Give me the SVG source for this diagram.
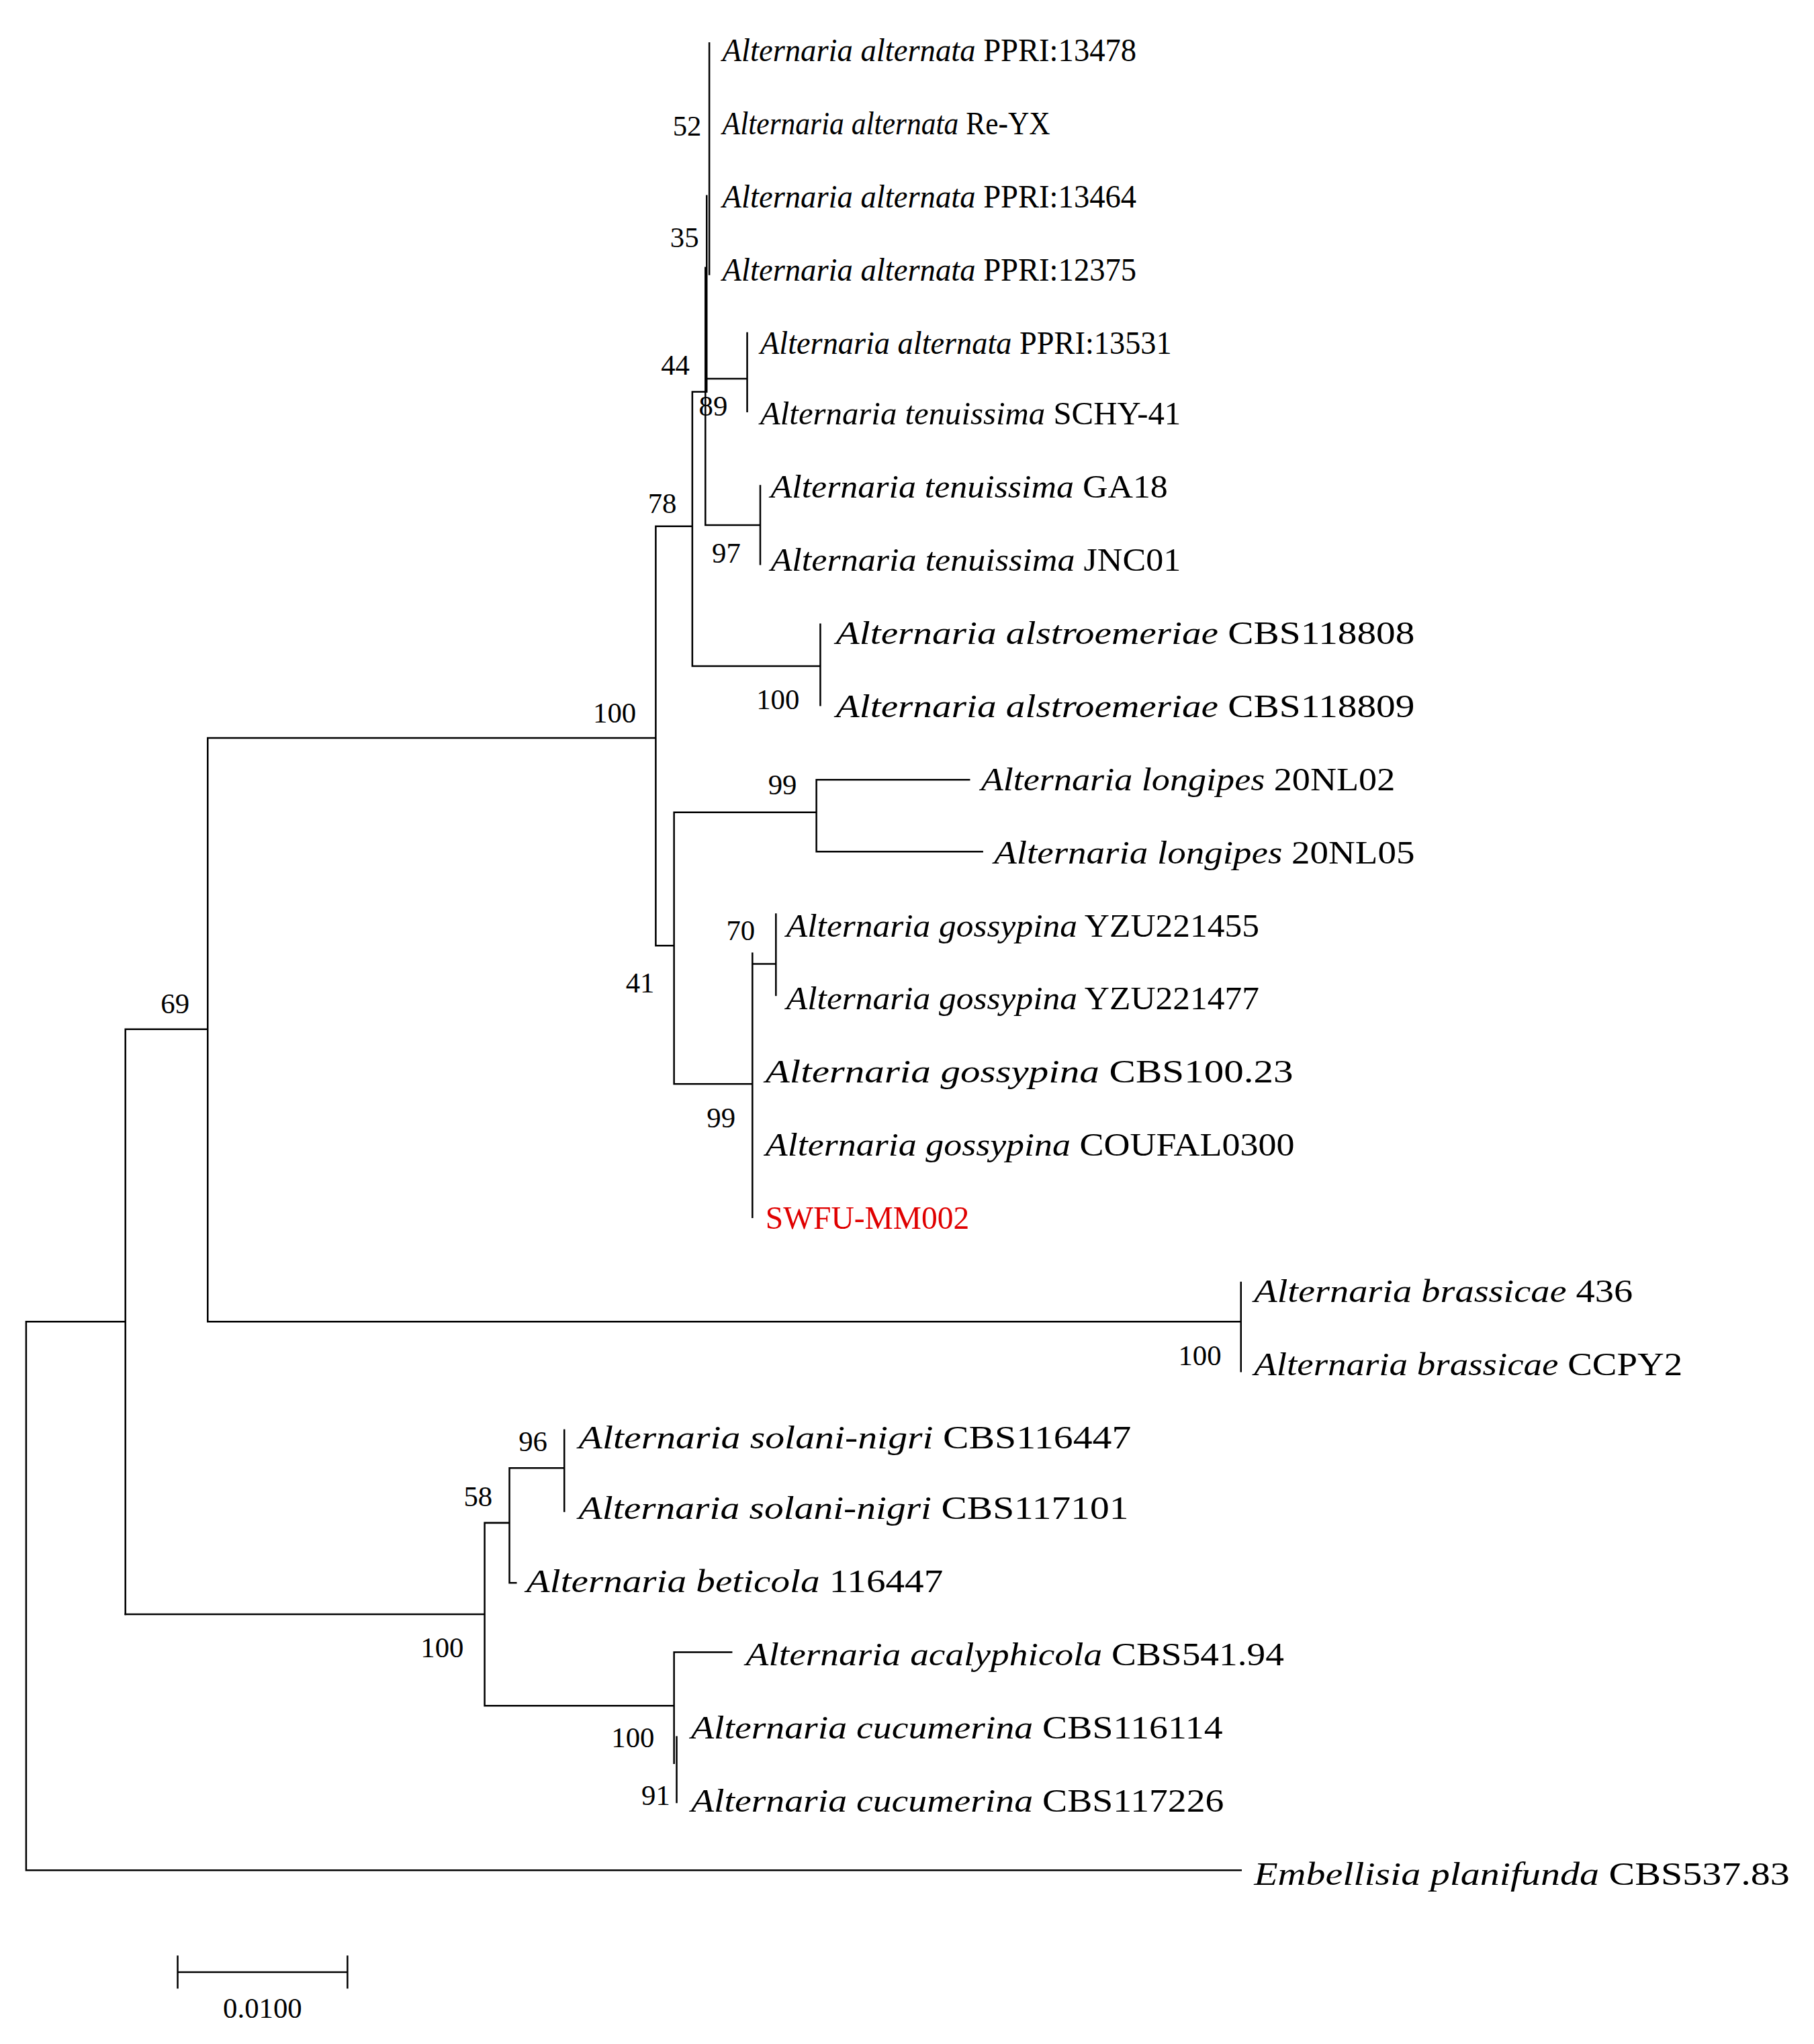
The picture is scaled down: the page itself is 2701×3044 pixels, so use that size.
<svg xmlns="http://www.w3.org/2000/svg" width="2701" height="3044" viewBox="0 0 2701 3044">
<style>
.e{stroke:#000;stroke-width:1.3;fill:none;stroke-linecap:square}
.t{font-family:"Liberation Serif",serif;font-size:25px;fill:#000}
.b{font-family:"Liberation Serif",serif;font-size:22px;fill:#000}
.i{font-style:italic}
</style>
<rect width="2701" height="3044" fill="#fff"/>
<g transform="scale(1.945)">
<g id="connectors">
<path class="e" d="M20 1012V1432H950M20 1012H96M96 788V1236M96 788H159M159 565V1012M159 1012H950M950 982V1050M159 565H502M502 403V724M502 403H530M530 300V510M530 510H628M628 478V540M530 300H540M540 205V402M540 290H572M572 255V315M540 402H582M582 372V432M543 33V210M541 150V300M502 724H516M516 622V830M516 622H625M625 597V652M625 597H742M625 652H752M516 830H576M576 730V932M576 738H594M594 700V762"/>
<path class="e" d="M96 1236H371M371 1166V1306M371 1166H390M390 1124V1212M390 1124H432M432 1095V1157M390 1212H395M371 1306H516M516 1265V1350M516 1265H560M518 1330V1380"/>
<path class="e" d="M136 1510H266M136 1498V1522M266 1498V1522"/>
</g>
<g id="tips">
<text class="t" x="553" y="47" textLength="317" lengthAdjust="spacingAndGlyphs"><tspan class="i">Alternaria alternata</tspan> PPRI:13478</text>
<text class="t" x="553" y="103" textLength="251" lengthAdjust="spacingAndGlyphs"><tspan class="i">Alternaria alternata</tspan> Re-YX</text>
<text class="t" x="553" y="159" textLength="317" lengthAdjust="spacingAndGlyphs"><tspan class="i">Alternaria alternata</tspan> PPRI:13464</text>
<text class="t" x="553" y="215" textLength="317" lengthAdjust="spacingAndGlyphs"><tspan class="i">Alternaria alternata</tspan> PPRI:12375</text>
<text class="t" x="582" y="271" textLength="315" lengthAdjust="spacingAndGlyphs"><tspan class="i">Alternaria alternata</tspan> PPRI:13531</text>
<text class="t" x="582" y="325" textLength="322" lengthAdjust="spacingAndGlyphs"><tspan class="i">Alternaria tenuissima</tspan> SCHY-41</text>
<text class="t" x="590" y="381" textLength="304" lengthAdjust="spacingAndGlyphs"><tspan class="i">Alternaria tenuissima</tspan> GA18</text>
<text class="t" x="590" y="437" textLength="314" lengthAdjust="spacingAndGlyphs"><tspan class="i">Alternaria tenuissima</tspan> JNC01</text>
<text class="t" x="640" y="493" textLength="443" lengthAdjust="spacingAndGlyphs"><tspan class="i">Alternaria alstroemeriae</tspan> CBS118808</text>
<text class="t" x="640" y="549" textLength="443" lengthAdjust="spacingAndGlyphs"><tspan class="i">Alternaria alstroemeriae</tspan> CBS118809</text>
<text class="t" x="751" y="605" textLength="317" lengthAdjust="spacingAndGlyphs"><tspan class="i">Alternaria longipes</tspan> 20NL02</text>
<text class="t" x="761" y="661" textLength="322" lengthAdjust="spacingAndGlyphs"><tspan class="i">Alternaria longipes</tspan>  20NL05</text>
<text class="t" x="602" y="717" textLength="362" lengthAdjust="spacingAndGlyphs"><tspan class="i">Alternaria gossypina</tspan> YZU221455</text>
<text class="t" x="602" y="773" textLength="362" lengthAdjust="spacingAndGlyphs"><tspan class="i">Alternaria gossypina</tspan> YZU221477</text>
<text class="t" x="586" y="829" textLength="404" lengthAdjust="spacingAndGlyphs"><tspan class="i">Alternaria  gossypina</tspan> CBS100.23</text>
<text class="t" x="586" y="885" textLength="405" lengthAdjust="spacingAndGlyphs"><tspan class="i">Alternaria gossypina</tspan> COUFAL0300</text>
<text class="t" x="586" y="941" textLength="156" lengthAdjust="spacingAndGlyphs" style="fill:#e00000">SWFU-MM002</text>
<text class="t" x="960" y="997" textLength="290" lengthAdjust="spacingAndGlyphs"><tspan class="i">Alternaria brassicae</tspan> 436</text>
<text class="t" x="960" y="1053" textLength="328" lengthAdjust="spacingAndGlyphs"><tspan class="i">Alternaria brassicae</tspan> CCPY2</text>
<text class="t" x="443" y="1109" textLength="423" lengthAdjust="spacingAndGlyphs"><tspan class="i">Alternaria solani-nigri</tspan> CBS116447</text>
<text class="t" x="443" y="1163" textLength="421" lengthAdjust="spacingAndGlyphs"><tspan class="i">Alternaria solani-nigri</tspan> CBS117101</text>
<text class="t" x="403" y="1219" textLength="319" lengthAdjust="spacingAndGlyphs"><tspan class="i">Alternaria beticola</tspan> 116447</text>
<text class="t" x="571" y="1275" textLength="412" lengthAdjust="spacingAndGlyphs"><tspan class="i">Alternaria acalyphicola</tspan> CBS541.94</text>
<text class="t" x="529" y="1331" textLength="407" lengthAdjust="spacingAndGlyphs"><tspan class="i">Alternaria cucumerina</tspan> CBS116114</text>
<text class="t" x="529" y="1387" textLength="408" lengthAdjust="spacingAndGlyphs"><tspan class="i">Alternaria cucumerina</tspan> CBS117226</text>
<text class="t" x="960" y="1443" textLength="410" lengthAdjust="spacingAndGlyphs"><tspan class="i">Embellisia planifunda</tspan> CBS537.83</text>
</g>
<g id="bootstrap" text-anchor="end">
<text class="b" x="537" y="104">52</text>
<text class="b" x="535" y="189">35</text>
<text class="b" x="528" y="287">44</text>
<text class="b" x="557" y="318">89</text>
<text class="b" x="518" y="393">78</text>
<text class="b" x="567" y="431">97</text>
<text class="b" x="612" y="543">100</text>
<text class="b" x="487" y="553">100</text>
<text class="b" x="610" y="608">99</text>
<text class="b" x="501" y="760">41</text>
<text class="b" x="578" y="720">70</text>
<text class="b" x="563" y="863">99</text>
<text class="b" x="145" y="776">69</text>
<text class="b" x="935" y="1045">100</text>
<text class="b" x="419" y="1111">96</text>
<text class="b" x="377" y="1153">58</text>
<text class="b" x="355" y="1269">100</text>
<text class="b" x="501" y="1338">100</text>
<text class="b" x="513" y="1382">91</text>
<text class="b" x="201" y="1545" text-anchor="middle">0.0100</text>
</g>
</g>
</svg>
